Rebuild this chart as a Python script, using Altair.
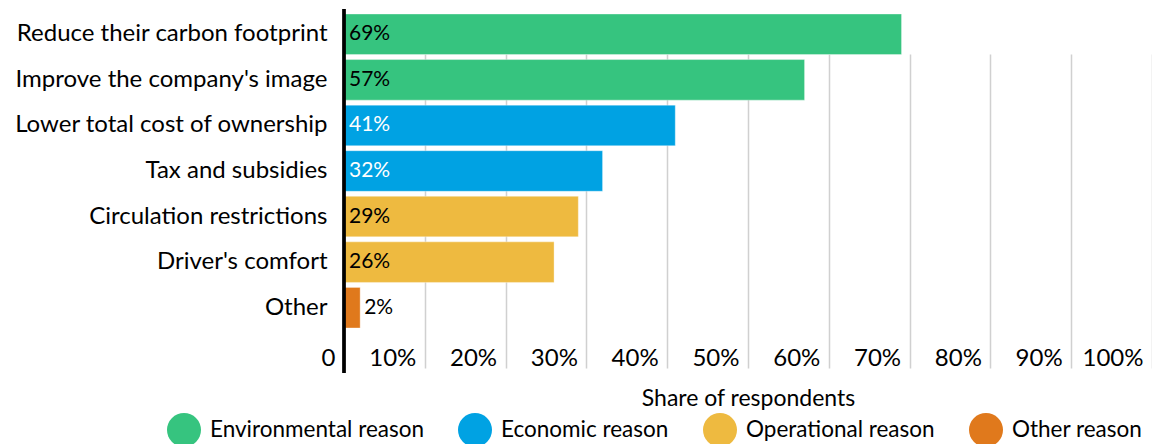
import altair as alt
import pandas as pd

categories = [
    "Reduce their carbon footprint",
    "Improve the company's image",
    "Lower total cost of ownership",
    "Tax and subsidies",
    "Circulation restrictions",
    "Driver's comfort",
    "Other",
]
values = [69, 57, 41, 32, 29, 26, 2]
groups = [
    "Environmental reason",
    "Environmental reason",
    "Economic reason",
    "Economic reason",
    "Operational reason",
    "Operational reason",
    "Other reason",
]
group_names = ["Environmental reason", "Economic reason", "Operational reason", "Other reason"]
group_colors = ["#36C47F", "#00A2E3", "#EEBA40", "#E0791C"]
x_ticks = [0, 10, 20, 30, 40, 50, 60, 70, 80, 90, 100]

df = pd.DataFrame({"reason": categories, "share": values, "group": groups})

FONT = "Lato"

yenc = alt.Y(
    "reason:N",
    sort=categories,
    scale=alt.Scale(range=[5, 319], paddingInner=0.11, paddingOuter=0),
    axis=alt.Axis(
        title=None, domain=False, ticks=False, tickSize=0, grid=False,
        labelFontSize=24, labelPadding=17, labelColor="black", labelFont=FONT,
        labelLimit=400,
    ),
)
xenc = alt.X(
    "share:Q",
    scale=alt.Scale(domain=[0, 100], nice=False),
    axis=alt.Axis(
        values=x_ticks,
        title="Share of respondents",
        grid=True, gridColor="#d0d0d0", gridWidth=1.5,
        domain=False, ticks=False, tickSize=0,
        labelAlign="right", labelOffset=-9, labelPadding=-15, labelBaseline="middle",
        labelFontSize=24, labelFont=FONT, labelColor="black",
        labelExpr="datum.value == 0 ? '0' : datum.value + '%'",
        labelOverlap=False, labelFlush=False,
        titleFontSize=23, titleFontWeight="normal", titleFont=FONT, titleColor="black",
        titleY=25, titleBaseline="middle",
    ),
)

base = alt.Chart(df).transform_calculate(label="datum.share + '%'")

bars = base.mark_bar(stroke="white", strokeOpacity=0.35, strokeWidth=1).encode(
    x=xenc,
    y=yenc,
    color=alt.Color(
        "group:N",
        scale=alt.Scale(domain=group_names, range=group_colors),
        legend=alt.Legend(
            title=None, orient="none", direction="horizontal",
            legendX=-177, legendY=404,
            symbolType="circle", symbolSize=1156, symbolStrokeWidth=0, symbolOpacity=1,
            labelFontSize=22.5, labelFont=FONT, labelColor="black", labelLimit=400,
            labelOffset=9, columnPadding=34, padding=0,
        ),
    ),
)

text_in = base.transform_filter("datum.share >= 10").mark_text(
    align="left", baseline="middle", dx=5, fontSize=21, font=FONT
).encode(
    x=alt.datum(0),
    y=yenc,
    text="label:N",
    color=alt.condition("datum.group == 'Economic reason'", alt.value("white"), alt.value("black")),
)

text_out = base.transform_filter("datum.share < 10").mark_text(
    align="left", baseline="middle", dx=4, fontSize=21, font=FONT, color="black"
).encode(
    x=xenc,
    y=yenc,
    text="label:N",
)

axis_line = alt.Chart(df).mark_rule(color="black", strokeWidth=2.5).encode(x=alt.datum(0))

chart = (
    alt.layer(bars, text_in, text_out, axis_line)
    .properties(
        width=808,
        height=364,
        autosize=alt.AutoSizeParams(type="none"),
        padding={"left": 336, "top": 1, "right": 0, "bottom": 80},
    )
    .configure_view(strokeWidth=0)
)

chart.save("out.html", embed_options={"renderer": "svg", "actions": False})
